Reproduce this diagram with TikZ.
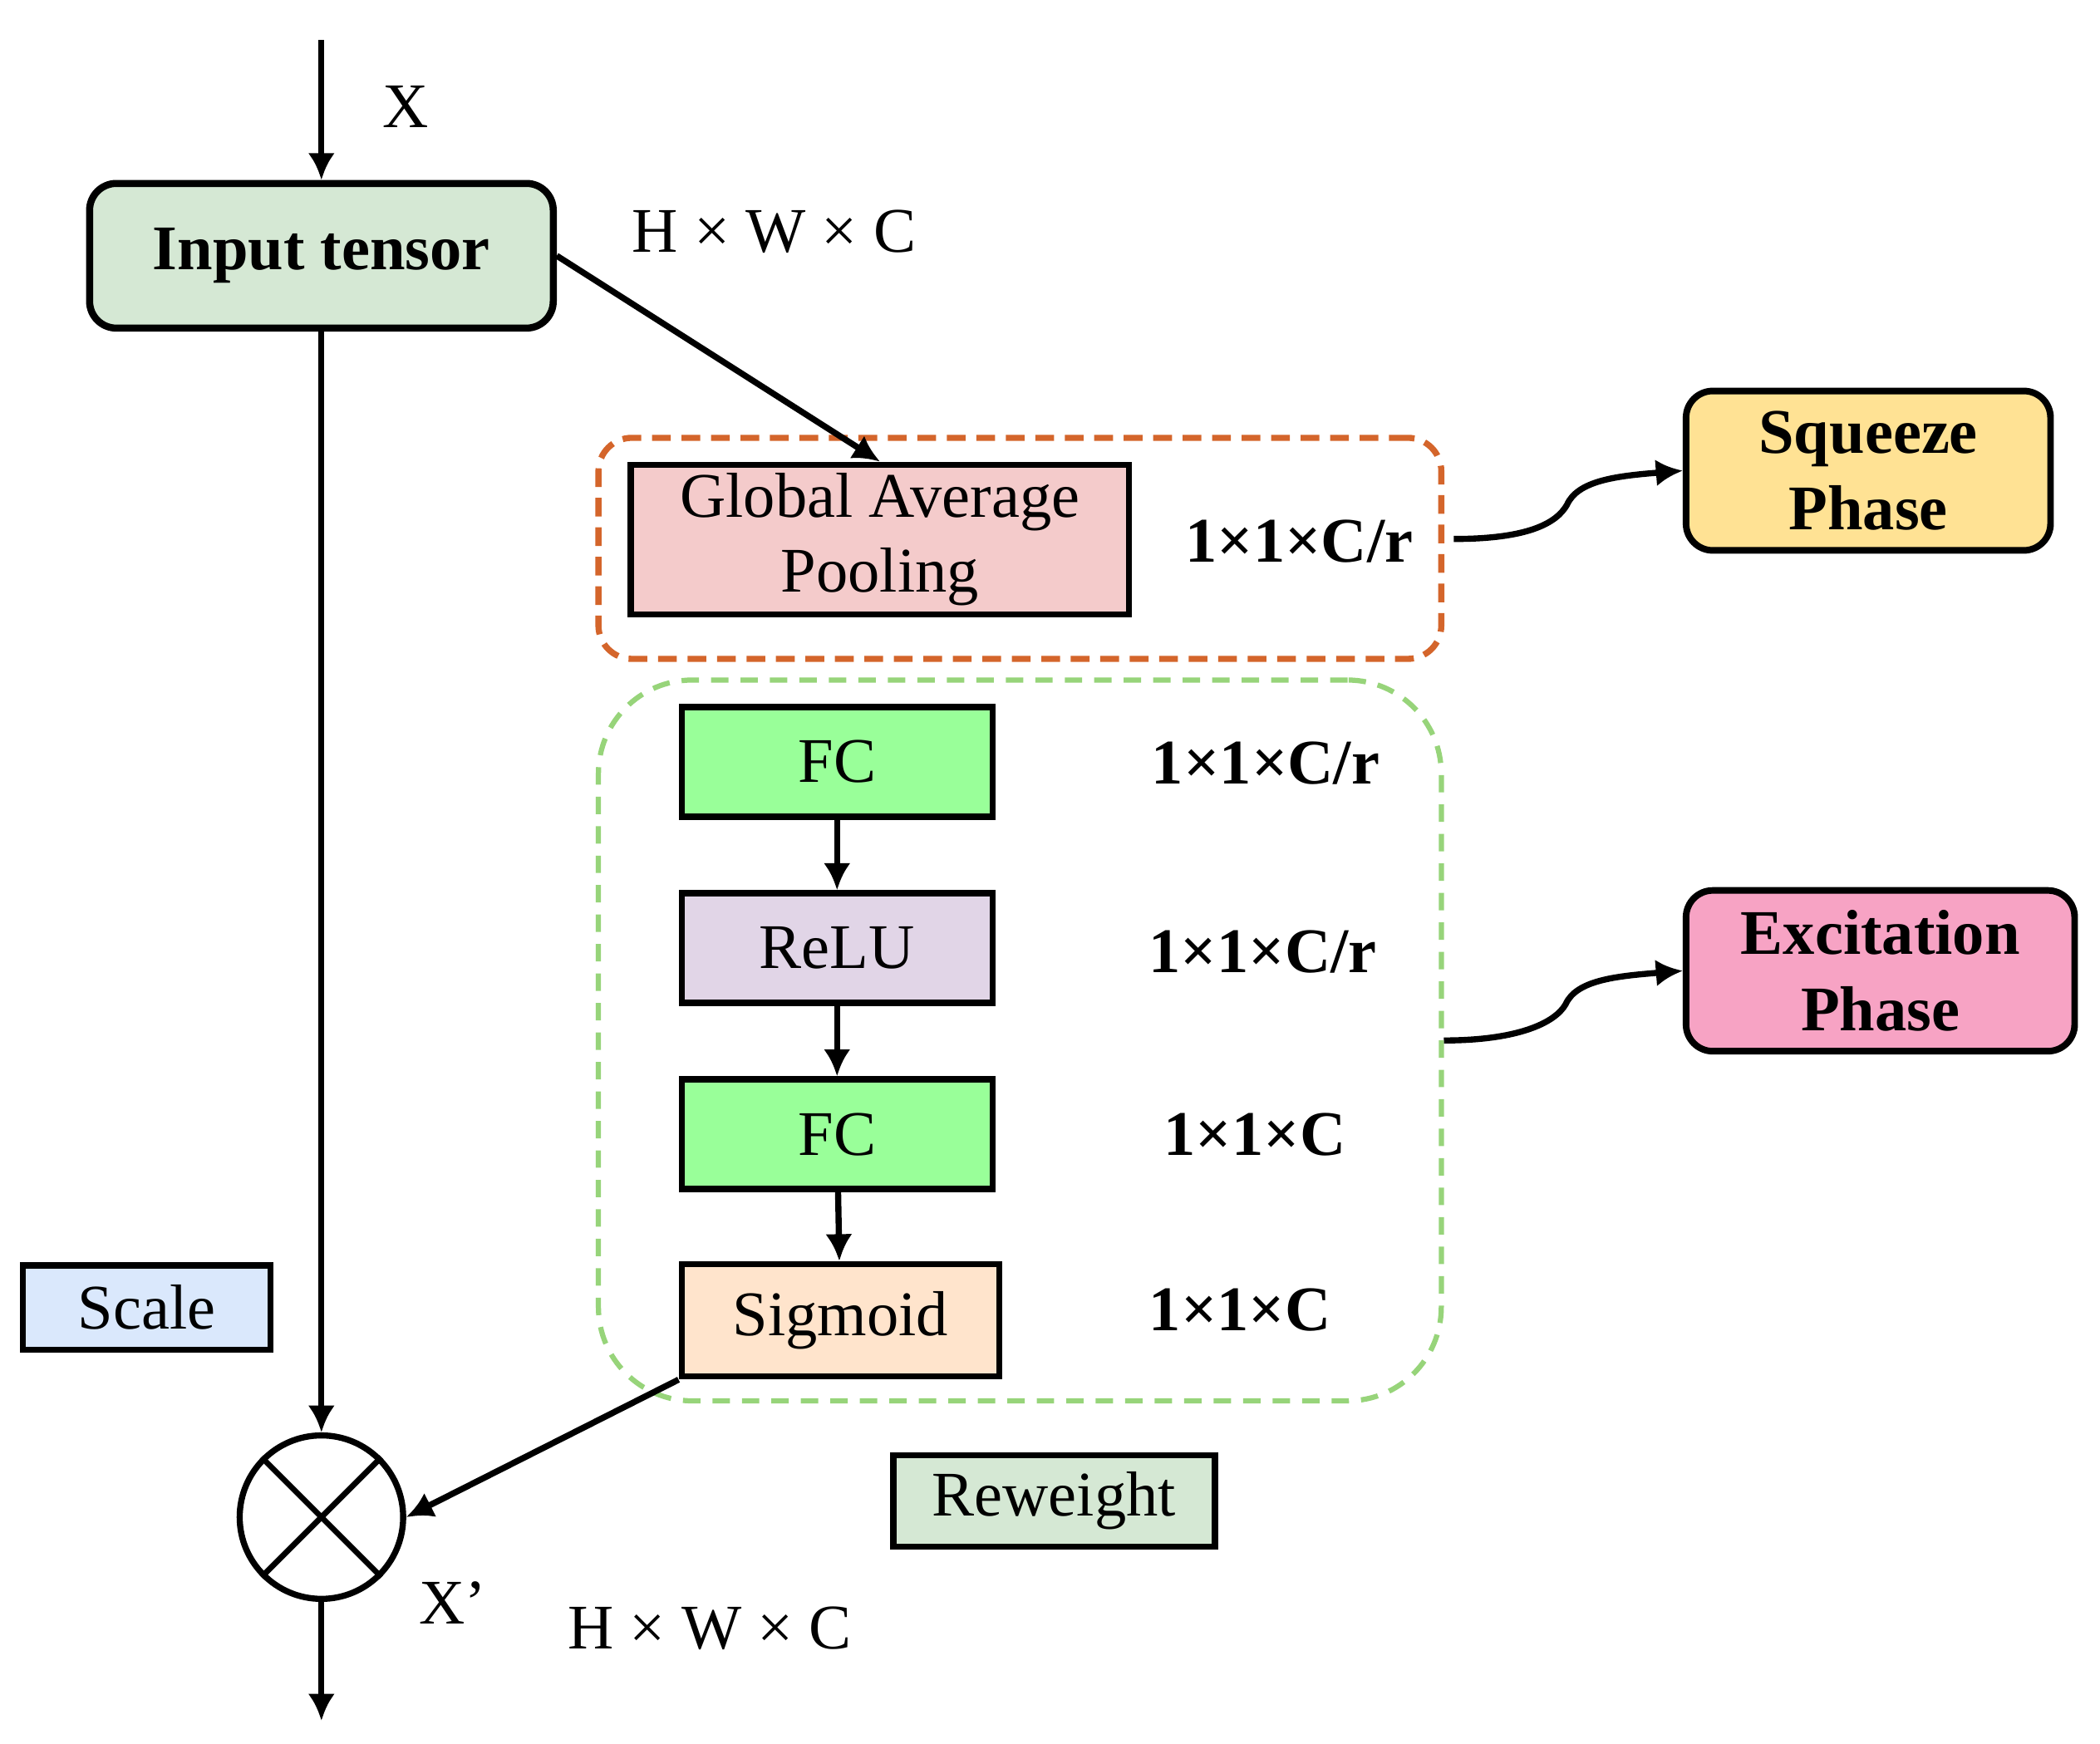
\documentclass[tikz,border=0pt]{standalone}
\usepackage{fontspec}
\setmainfont{Liberation Serif}
\usetikzlibrary{arrows.meta}
\definecolor{tensorfill}{HTML}{D5E8D4}
\definecolor{poolfill}{HTML}{F4CBCB}
\definecolor{fcfill}{HTML}{99FF99}
\definecolor{relufill}{HTML}{E1D5E7}
\definecolor{sigfill}{HTML}{FFE4CC}
\definecolor{scalefill}{HTML}{DAE8FC}
\definecolor{squeezefill}{HTML}{FFE294}
\definecolor{excitefill}{HTML}{F7A3C4}
\definecolor{sqorange}{HTML}{D4652B}
\definecolor{exgreen}{HTML}{97D47A}
\tikzset{
    block/.style={draw,line width=1.3pt,inner sep=0pt,align=center},
    phase/.style={block,line width=1.4pt,rounded corners=0.2cm,font=\fontsize{13.5}{16.2}\selectfont\bfseries},
    layer/.style={block,minimum width=2.32cm,minimum height=0.82cm},
    conn/.style={-{Latex[length=0.2cm,width=0.2cm]},line width=1.3pt},
    dims/.style={font=\fontsize{13.5}{16.2}\selectfont\bfseries}
}
\begin{document}
\begin{tikzpicture}[x=0.01cm,y=-0.01cm,font=\fontsize{13.5}{16.2}\selectfont]
    \useasboundingbox (0,0) rectangle (1568,1302);
    % groups
    \node[draw=sqorange,line width=1.3pt,dash pattern=on 0.14cm off 0.08cm,rounded corners=0.25cm,
        minimum width=6.29cm,minimum height=1.65cm] (sqgroup) at (761.5,409.5) {};
    \node[draw=exgreen,line width=1.1pt,dash pattern=on 0.13cm off 0.09cm,rounded corners=0.7cm,
        minimum width=6.29cm,minimum height=5.38cm] (exgroup) at (761.5,777) {};
    % blocks
    \node[phase,fill=tensorfill,line width=1.5pt,minimum width=3.46cm,minimum height=1.08cm] (input) at (240,191) {Input tensor};
    \node[block,fill=poolfill,minimum width=3.72cm,minimum height=1.12cm] (gap) at (657,403) {\raisebox{-0.1cm}{\shortstack{Global Average\\[0.02cm]Pooling}}};
    \node[layer,fill=fcfill] (fc1) at (625,569) {FC};
    \node[layer,fill=relufill] (relu) at (625,708) {ReLU};
    \node[layer,fill=fcfill] (fc2) at (625,847) {FC};
    \node[block,fill=sigfill,minimum width=2.37cm,minimum height=0.84cm] (sig) at (627.5,986) {Sigmoid};
    \node[block,fill=scalefill,minimum width=1.85cm,minimum height=0.63cm] (scale) at (109.5,976.5) {Scale};
    \node[block,fill=tensorfill,minimum width=2.40cm,minimum height=0.68cm] (reweight) at (787,1121) {Reweight};
    \node[phase,fill=squeezefill,minimum width=2.72cm,minimum height=1.19cm] (squeeze) at (1395,351.5) {Squeeze\\Phase};
    \node[phase,fill=excitefill,minimum width=2.90cm,minimum height=1.20cm] (excite) at (1404,725) {Excitation\\Phase};
    \node[draw,circle,line width=1.3pt,minimum size=1.22cm] (mul) at (240,1133) {};
    \draw[line width=1.2pt] (mul.north west) -- (mul.south east) (mul.north east) -- (mul.south west);
    % labels
    \node at (303,80) {X};
    \node at (578,173) {H × W × C};
    \node[dims] at (970,404) {1×1×C/r};
    \node[dims] at (945,570) {1×1×C/r};
    \node[dims] at (943,711) {1×1×C/r};
    \node[dims] at (937,847) {1×1×C};
    \node[dims] at (926,978) {1×1×C};
    \node at (338,1197) {X’};
    \node at (530,1216) {H × W × C};
    % connectors
    \coordinate (xin) at (240,30);
    \coordinate (xout) at (240,1285);
    \draw[conn] (xin) -- (input.north);
    \draw[conn] (input.east) -- (gap.north);
    \draw[conn] (input.south) -- (mul.north);
    \draw[conn] (fc1) -- (relu);
    \draw[conn] (relu) -- (fc2);
    \draw[conn] (fc2) -- (sig);
    \draw[conn] (sig.south west) -- (mul.east);
    \draw[conn] (mul.south) -- (xout);
    \draw[conn] ([xshift=0.07cm,yshift=0.07cm]sqgroup.east) .. controls +(55,0) and +(-8,14) .. (1170,377)
        .. controls +(8,-18) and +(-50,4) .. (squeeze.west);
    \draw[conn] (exgroup.east) .. controls +(55,0) and +(-8,14) .. (1169,750)
        .. controls +(8,-18) and +(-50,4) .. (excite.west);
\end{tikzpicture}
\end{document}
